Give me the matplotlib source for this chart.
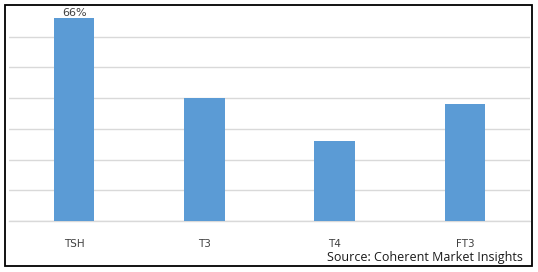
import matplotlib
matplotlib.use("Agg")
import matplotlib.pyplot as plt
from matplotlib.patches import Rectangle

# data
categories = ["TSH", "T3", "T4", "FT3"]
values = [66, 40, 26, 38]          # percent
labelled = {"TSH": "66%"}          # only the first bar carries a label

W, H = 538, 272
fig = plt.figure(figsize=(W / 100, H / 100), dpi=100)

# plot area in pixel terms -> figure fractions
x0, x1 = 9, 530
y_top, y_base = 6, 221
ax = fig.add_axes([x0 / W, 1 - y_base / H, (x1 - x0) / W, (y_base - y_top) / H])

bar_color = "#5B9BD5"
grid_color = "#D9D9D9"

xs = range(len(categories))
bars = ax.bar(xs, values, width=0.31, color=bar_color, zorder=3)

ax.set_xlim(-0.5, len(categories) - 0.5)
ax.set_ylim(0, 70)
ax.set_yticks(range(0, 61, 10))
ax.yaxis.grid(True, color=grid_color, linewidth=1.0, zorder=0)
ax.tick_params(axis="y", left=False, labelleft=False)
ax.set_xticks(list(xs))
ax.set_xticklabels(categories, fontsize=7.5, color="#404040", family="DejaVu Sans")
ax.tick_params(axis="x", length=0, pad=13)
for side in ("top", "right", "left"):
    ax.spines[side].set_visible(False)
ax.spines["bottom"].set_color(grid_color)
ax.spines["bottom"].set_linewidth(1.0)

for b, cat in zip(bars, categories):
    if cat in labelled:
        ax.text(b.get_x() + b.get_width() / 2, b.get_height(), labelled[cat],
                ha="center", va="bottom", fontsize=8, color="#404040",
                family="DejaVu Sans", zorder=4)

# source note
fig.text(523 / W, 1 - 258 / H, "Source: Coherent Market Insights",
         ha="right", va="center", fontsize=9, color="#1a1a1a",
         family="Open Sans")

# outer black frame
fig.patches.append(Rectangle((5 / W, 1 - 266 / H), (532 - 5) / W, (266 - 5) / H,
                             transform=fig.transFigure, fill=False,
                             edgecolor="black", linewidth=1.3))

fig.savefig("out.png", dpi=100, facecolor="white")
